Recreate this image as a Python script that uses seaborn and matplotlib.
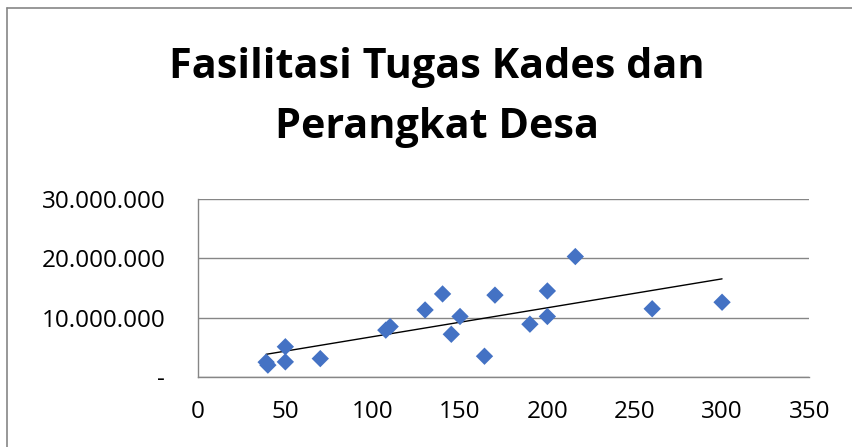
import numpy as np
import pandas as pd
import seaborn as sns
import matplotlib.pyplot as plt
from matplotlib.lines import Line2D
from matplotlib.ticker import FuncFormatter

# values
x_vals = [39, 40, 50, 50, 70, 107.5, 110, 130, 140, 145, 150, 164, 170, 190, 200, 200, 216, 260, 300]
y_vals = [2.5, 2.0, 5.1, 2.55, 3.1, 7.9, 8.5, 11.3, 14.0, 7.2, 10.2, 3.5, 13.8, 8.9, 14.5, 10.2, 20.3, 11.5, 12.6]
y_vals = [v * 1e6 for v in y_vals]
x_ticks = [0, 50, 100, 150, 200, 250, 300, 350]
y_ticks = [0, 10e6, 20e6, 30e6]
title_lines = ["Fasilitasi Tugas Kades dan", "Perangkat Desa"]

df = pd.DataFrame({"x": x_vals, "y": y_vals})

sns.set_style("white")
plt.rcParams['font.family'] = ['Open Sans', 'DejaVu Sans']

fig = plt.figure(figsize=(8.52, 4.47), dpi=100)
ax = fig.add_axes([0.2324, 0.1566, 0.7176, 0.3982])

sns.regplot(data=df, x="x", y="y", ax=ax, ci=None, truncate=True, marker="D",
            scatter_kws=dict(s=78, color="#4472C4", edgecolor="none", zorder=3, alpha=1),
            line_kws=dict(color="black", lw=1.0, zorder=2))

ax.set_xlim(0, 350)
ax.set_ylim(0, 30e6)
ax.set_xticks(x_ticks)
ax.set_yticks(y_ticks)

def fmt_y(v, pos):
    if v == 0:
        return "-"
    return f"{int(v):,}".replace(",", ".")

ax.yaxis.set_major_formatter(FuncFormatter(fmt_y))
ax.set_xlabel("")
ax.set_ylabel("")
ax.grid(axis="y", color="#868686", lw=1.0)
for side in ["top", "right"]:
    ax.spines[side].set_visible(False)
for side in ["left", "bottom"]:
    ax.spines[side].set_color("#868686")
    ax.spines[side].set_linewidth(1.0)
ax.tick_params(axis="both", labelsize=17.5, colors="#868686", labelcolor="black",
               length=6.5, width=1.0, direction="out")
ax.tick_params(axis="y", pad=17)
ax.tick_params(axis="x", pad=10)

fig.text(0.5126, 0.8248, title_lines[0], ha="center", va="baseline", fontsize=29.8,
         fontweight="bold", color="black")
fig.text(0.5126, 0.6913, title_lines[1], ha="center", va="baseline", fontsize=29.8,
         fontweight="bold", color="black")

# chart area border (top and left edges visible in the reference)
fig.add_artist(Line2D([0.008, 0.008], [0, 0.982], transform=fig.transFigure, color="#868686", lw=1.2))
fig.add_artist(Line2D([0.008, 1], [0.982, 0.982], transform=fig.transFigure, color="#868686", lw=1.2))

fig.savefig("out.png", dpi=100)
